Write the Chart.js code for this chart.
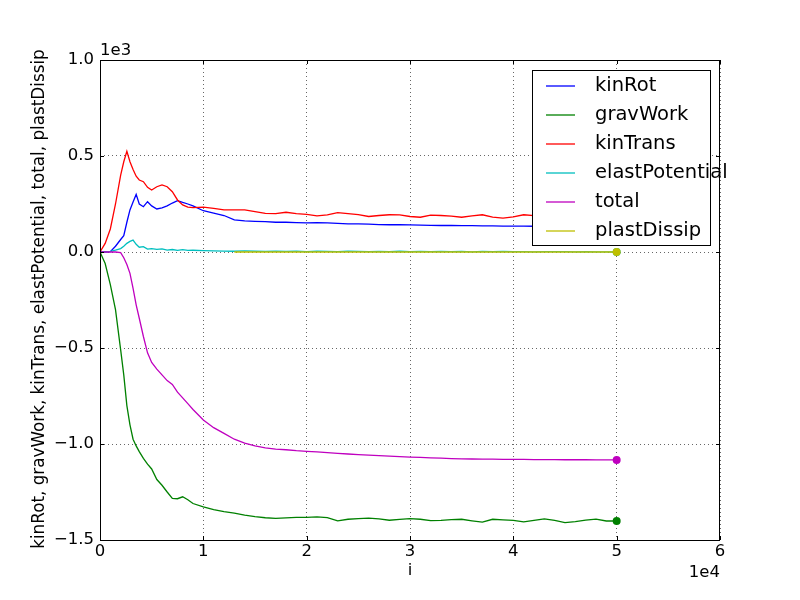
<!DOCTYPE html>
<html>
<head>
<meta charset="utf-8">
<script src="https://cdn.jsdelivr.net/npm/chart.js@4.4.1/dist/chart.umd.min.js"></script>
<style>
  body { margin: 0; background: #ffffff; }
  canvas { display: block; }
</style>
</head>
<body>
<canvas id="chart" width="800" height="600"></canvas>
<script>
// iteratie-stappen (gedeeld door de meeste reeksen)
const steps = [0, 500, 1000, 1500, 2000, 2300, 2600, 2900, 3200, 3500, 3800, 4200, 4600, 5000, 5500,
  6000, 6500, 7000, 7500, 8000, 8500, 9000, 10000, 11000, 12000, 13000, 14000, 15000, 16000, 17000,
  18000, 19000, 20000, 21000, 22000, 23000, 24000, 25000, 26000, 27000, 28000, 29000, 30000, 31000,
  32000, 33000, 34000, 35000, 36000, 37000, 38000, 39000, 40000, 41000, 42000, 43000, 44000, 45000,
  46000, 47000, 48000, 49000, 50000];

const kinRot = [0, 0, 2, 30, 65, 85, 155, 219, 260, 300, 250, 236, 262, 240, 224,
  230, 240, 255, 267, 258, 250, 240, 215, 203, 190, 167, 162, 160, 158, 155,
  155, 153, 152, 153, 152, 149, 147, 146, 145, 143, 142, 142, 141, 140,
  139, 138, 138, 137, 137, 136, 136, 135, 135, 135, 134, 134, 133, 133,
  132, 132, 131, 131, 130];

const gravWork = [0, -60, -170, -300, -510, -640, -800, -900, -975, -1010, -1040, -1075, -1105, -1130, -1185,
  -1215, -1250, -1283, -1285, -1275, -1290, -1310, -1327, -1342, -1352, -1360, -1370, -1378, -1384, -1387,
  -1385, -1382, -1382, -1380, -1383, -1400, -1392, -1389, -1386, -1390, -1397, -1393, -1389, -1392,
  -1399, -1398, -1394, -1392, -1400, -1407, -1392, -1395, -1398, -1406, -1398, -1390, -1398, -1409,
  -1404, -1396, -1391, -1401, -1401];

const kinTrans = [0, 45, 120, 250, 400, 470, 525, 470, 430, 395, 375, 366, 337, 323, 340,
  349, 340, 314, 271, 245, 234, 231, 234, 227, 219, 219, 219, 210, 201, 200,
  207, 200, 196, 188, 193, 205, 200, 195, 185, 190, 194, 193, 185, 181,
  192, 190, 187, 181, 188, 194, 182, 176, 183, 194, 189, 185, 180, 184,
  188, 182, 178, 183, 181];

const elastPotential = [0, 0, 3, 10, 18, 30, 45, 55, 62, 40, 25, 28, 15, 18, 14,
  16, 10, 13, 9, 12, 8, 9, 7, 6, 5, 4, 6, 4, 3, 5,
  3, 4, 2, 4, 3, 2, 4, 3, 2, 3, 2, 4, 2, 3,
  2, 3, 2, 3, 1, 3, 2, 3, 2, 2, 1, 2, 2, 2,
  1, 2, 1, 1, 0];

const total = [0, 0, 0, 0, -3, -30, -65, -111, -190, -275, -345, -440, -525, -575, -610,
  -640, -670, -690, -730, -760, -790, -820, -875, -915, -945, -975, -995, -1010, -1020, -1027,
  -1030, -1035, -1038, -1041, -1045, -1049, -1052, -1055, -1058, -1061, -1063, -1066, -1068, -1070,
  -1072, -1074, -1076, -1077, -1078, -1079, -1079, -1080, -1080, -1080, -1081, -1081, -1081, -1082,
  -1082, -1082, -1083, -1083, -1083];

// plastDissip begint pas later
const plastSteps = [13000, 20000, 30000, 40000, 50000];
const plastDissip = [0, 0, 0, 0, 0];

const seriesNames = ["kinRot", "gravWork", "kinTrans", "elastPotential", "total", "plastDissip"];
const seriesColours = ["#0000ff", "#008000", "#ff0000", "#00bfbf", "#bf00bf", "#bfbf00"];
const xTicks = [0, 10000, 20000, 30000, 40000, 50000, 60000];
const yTicks = [-1500, -1000, -500, 0, 500, 1000];

const fontName = "'DejaVu Sans', sans-serif";
const tickSize = 16.5;

// maakt een reeks van x en y lijsten
function makePoints(xs, ys) {
  return xs.map((x, i) => ({ x: x, y: ys[i] }));
}

function makeDataset(index, xs, ys) {
  const last = xs.length - 1;
  return {
    label: seriesNames[index],
    data: makePoints(xs, ys),
    borderColor: seriesColours[index],
    backgroundColor: seriesColours[index],
    borderWidth: 1.3,
    tension: 0,
    // later getekende reeksen liggen bovenop, zoals in matplotlib
    order: seriesNames.length - index,
    pointRadius: ctx => ctx.dataIndex === last ? 4 : 0,
    pointHoverRadius: 0,
    pointBorderWidth: 0,
    fill: false
  };
}

// minus teken zoals matplotlib
function minus(str) {
  return str.replace("-", "\u2212");
}

// eigen tekst, kader, streepjes en legenda
const decorations = {
  id: "decorations",
  afterDraw(chart) {
    const ctx = chart.ctx;
    const area = chart.chartArea;
    const xs = chart.scales.x;
    const ys = chart.scales.y;
    ctx.save();

    // kader
    ctx.strokeStyle = "#000000";
    ctx.lineWidth = 1;
    ctx.strokeRect(area.left + 0.5, area.top + 0.5, area.right - area.left - 1, area.bottom - area.top);

    // streepjes naar binnen
    ctx.beginPath();
    xTicks.forEach(v => {
      const px = Math.round(xs.getPixelForValue(v)) + 0.5;
      ctx.moveTo(px, area.bottom); ctx.lineTo(px, area.bottom - 4);
      ctx.moveTo(px, area.top); ctx.lineTo(px, area.top + 4);
    });
    yTicks.forEach(v => {
      const py = Math.round(ys.getPixelForValue(v)) + 0.5;
      ctx.moveTo(area.left, py); ctx.lineTo(area.left + 4, py);
      ctx.moveTo(area.right, py); ctx.lineTo(area.right - 4, py);
    });
    ctx.stroke();

    // legenda
    const lx = 532, ly = 70, lw = 178, lh = 175;
    ctx.fillStyle = "#ffffff";
    ctx.fillRect(lx, ly, lw, lh);
    ctx.strokeRect(lx + 0.5, ly + 0.5, lw, lh);
    ctx.font = "19.5px " + fontName;
    ctx.textBaseline = "middle";
    ctx.textAlign = "left";
    seriesNames.forEach((name, i) => {
      const rowY = 86 + i * 29;
      ctx.strokeStyle = seriesColours[i];
      ctx.lineWidth = 1.3;
      ctx.beginPath();
      ctx.moveTo(546, rowY);
      ctx.lineTo(575, rowY);
      ctx.stroke();
      ctx.fillStyle = "#000000";
      ctx.fillText(name, 595, rowY);
    });

    // as titels en vermenigvuldigers
    ctx.fillStyle = "#000000";
    ctx.font = tickSize + "px " + fontName;
    ctx.textAlign = "left";
    ctx.textBaseline = "alphabetic";
    ctx.fillText("1e3", 100, 55);
    ctx.textAlign = "right";
    ctx.fillText("1e4", 720, 577);
    ctx.textAlign = "center";
    ctx.textBaseline = "middle";
    ctx.fillText("i", 410, 571);
    ctx.font = "16.8px " + fontName;
    ctx.translate(40, 299);
    ctx.rotate(-Math.PI / 2);
    ctx.fillText(seriesNames.join(", "), 0, 0);
    ctx.restore();
  }
};

const datasets = [
  makeDataset(0, steps, kinRot),
  makeDataset(1, steps, gravWork),
  makeDataset(2, steps, kinTrans),
  makeDataset(3, steps, elastPotential),
  makeDataset(4, steps, total),
  makeDataset(5, plastSteps, plastDissip)
];

new Chart(document.getElementById("chart"), {
  type: "line",
  data: { datasets: datasets },
  plugins: [decorations],
  options: {
    responsive: false,
    animation: false,
    layout: { padding: { top: 60, right: 80, left: 0, bottom: 0 } },
    plugins: {
      legend: { display: false },
      tooltip: { enabled: false }
    },
    scales: {
      x: {
        type: "linear",
        min: 0,
        max: 60000,
        afterFit: scale => { scale.height = 60; },
        afterBuildTicks: scale => { scale.ticks = xTicks.map(v => ({ value: v })); },
        ticks: {
          autoSkip: false,
          maxRotation: 0,
          padding: 2,
          color: "#000000",
          font: { family: fontName, size: tickSize },
          callback: v => String(v / 10000)
        },
        grid: { color: "#000000", lineWidth: 0.6, drawTicks: false },
        border: { display: false, dash: [1, 3] }
      },
      y: {
        type: "linear",
        min: -1500,
        max: 1000,
        afterFit: scale => { scale.width = 100; },
        afterBuildTicks: scale => { scale.ticks = yTicks.map(v => ({ value: v })); },
        ticks: {
          autoSkip: false,
          padding: 6,
          color: "#000000",
          font: { family: fontName, size: tickSize },
          callback: v => minus((v / 1000).toFixed(1))
        },
        grid: { color: "#000000", lineWidth: 0.6, drawTicks: false },
        border: { display: false, dash: [1, 3] }
      }
    }
  }
});
</script>
</body>
</html>
